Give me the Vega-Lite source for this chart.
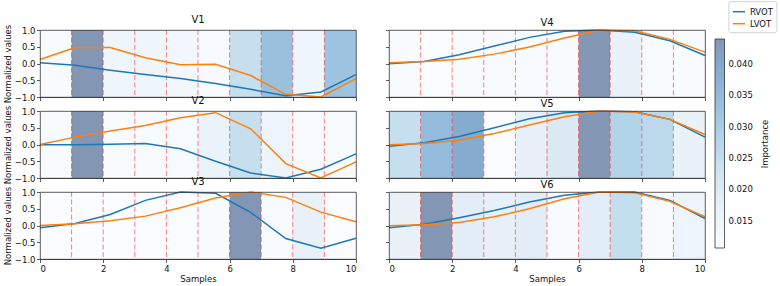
{
  "$schema": "https://vega.github.io/schema/vega-lite/v6.json",
  "padding": {"left": 2, "top": 0, "right": 1, "bottom": 2},
  "bounds": "flush",
  "columns": 2,
  "spacing": {"row": 14, "column": 33},
  "resolve": {"scale": {"fill": "shared", "stroke": "shared"}, "legend": {"fill": "shared", "stroke": "shared"}},
  "config": {
    "font": "DejaVu Sans",
    "view": {"stroke": "#333", "strokeWidth": 0.8},
    "style": {"cell": {"strokeForeground": true}},
    "axis": {"labelFont": "DejaVu Sans", "labelFontSize": 8.5, "labelColor": "#111", "tickSize": 3.5, "tickColor": "#333", "tickWidth": 0.8, "domainColor": "#333", "domainWidth": 0.8, "grid": false, "labelPadding": 1.5, "titleFont": "DejaVu Sans", "titleFontSize": 8.5, "titleFontWeight": "normal", "titleColor": "#111", "titlePadding": 2, "zindex": 1},
    "title": {"font": "DejaVu Sans", "fontSize": 10, "fontWeight": "normal", "color": "#111", "offset": -1, "baseline": "alphabetic", "frame": "group"},
    "legend": {"labelFont": "DejaVu Sans", "titleFont": "DejaVu Sans"}
  },
  "datasets": {
    "bands": [
      {"panel": "V1", "x": 0, "x2": 1, "imp": 0.0117}, {"panel": "V1", "x": 1, "x2": 2, "imp": 0.0439}, {"panel": "V1", "x": 2, "x2": 3, "imp": 0.015}, {"panel": "V1", "x": 3, "x2": 4, "imp": 0.0147}, {"panel": "V1", "x": 4, "x2": 5, "imp": 0.014}, {"panel": "V1", "x": 5, "x2": 6, "imp": 0.012}, {"panel": "V1", "x": 6, "x2": 7, "imp": 0.0246}, {"panel": "V1", "x": 7, "x2": 8, "imp": 0.0333}, {"panel": "V1", "x": 8, "x2": 9, "imp": 0.0144}, {"panel": "V1", "x": 9, "x2": 10, "imp": 0.0326},
      {"panel": "V2", "x": 0, "x2": 1, "imp": 0.0115}, {"panel": "V2", "x": 1, "x2": 2, "imp": 0.0439}, {"panel": "V2", "x": 2, "x2": 3, "imp": 0.0118}, {"panel": "V2", "x": 3, "x2": 4, "imp": 0.0118}, {"panel": "V2", "x": 4, "x2": 5, "imp": 0.012}, {"panel": "V2", "x": 5, "x2": 6, "imp": 0.016}, {"panel": "V2", "x": 6, "x2": 7, "imp": 0.0246}, {"panel": "V2", "x": 7, "x2": 8, "imp": 0.0153}, {"panel": "V2", "x": 8, "x2": 9, "imp": 0.012}, {"panel": "V2", "x": 9, "x2": 10, "imp": 0.0115},
      {"panel": "V3", "x": 0, "x2": 1, "imp": 0.011}, {"panel": "V3", "x": 1, "x2": 2, "imp": 0.011}, {"panel": "V3", "x": 2, "x2": 3, "imp": 0.011}, {"panel": "V3", "x": 3, "x2": 4, "imp": 0.011}, {"panel": "V3", "x": 4, "x2": 5, "imp": 0.011}, {"panel": "V3", "x": 5, "x2": 6, "imp": 0.0112}, {"panel": "V3", "x": 6, "x2": 7, "imp": 0.0439}, {"panel": "V3", "x": 7, "x2": 8, "imp": 0.0115}, {"panel": "V3", "x": 8, "x2": 9, "imp": 0.017}, {"panel": "V3", "x": 9, "x2": 10, "imp": 0.011},
      {"panel": "V4", "x": 0, "x2": 1, "imp": 0.0115}, {"panel": "V4", "x": 1, "x2": 2, "imp": 0.011}, {"panel": "V4", "x": 2, "x2": 3, "imp": 0.0115}, {"panel": "V4", "x": 3, "x2": 4, "imp": 0.0118}, {"panel": "V4", "x": 4, "x2": 5, "imp": 0.012}, {"panel": "V4", "x": 5, "x2": 6, "imp": 0.0115}, {"panel": "V4", "x": 6, "x2": 7, "imp": 0.0439}, {"panel": "V4", "x": 7, "x2": 8, "imp": 0.0167}, {"panel": "V4", "x": 8, "x2": 9, "imp": 0.0115}, {"panel": "V4", "x": 9, "x2": 10, "imp": 0.0112},
      {"panel": "V5", "x": 0, "x2": 1, "imp": 0.0246}, {"panel": "V5", "x": 1, "x2": 2, "imp": 0.0346}, {"panel": "V5", "x": 2, "x2": 3, "imp": 0.039}, {"panel": "V5", "x": 3, "x2": 4, "imp": 0.011}, {"panel": "V5", "x": 4, "x2": 5, "imp": 0.0173}, {"panel": "V5", "x": 5, "x2": 6, "imp": 0.0207}, {"panel": "V5", "x": 6, "x2": 7, "imp": 0.0439}, {"panel": "V5", "x": 7, "x2": 8, "imp": 0.028}, {"panel": "V5", "x": 8, "x2": 9, "imp": 0.0263}, {"panel": "V5", "x": 9, "x2": 10, "imp": 0.0167},
      {"panel": "V6", "x": 0, "x2": 1, "imp": 0.0167}, {"panel": "V6", "x": 1, "x2": 2, "imp": 0.0439}, {"panel": "V6", "x": 2, "x2": 3, "imp": 0.019}, {"panel": "V6", "x": 3, "x2": 4, "imp": 0.0173}, {"panel": "V6", "x": 4, "x2": 5, "imp": 0.019}, {"panel": "V6", "x": 5, "x2": 6, "imp": 0.0114}, {"panel": "V6", "x": 6, "x2": 7, "imp": 0.019}, {"panel": "V6", "x": 7, "x2": 8, "imp": 0.025}, {"panel": "V6", "x": 8, "x2": 9, "imp": 0.0115}, {"panel": "V6", "x": 9, "x2": 10, "imp": 0.0153}
    ],
    "series": [
      {"panel": "V1", "series": "RVOT", "x": 0, "v": 0.02}, {"panel": "V1", "series": "RVOT", "x": 1.111, "v": -0.05}, {"panel": "V1", "series": "RVOT", "x": 2.222, "v": -0.2}, {"panel": "V1", "series": "RVOT", "x": 3.333, "v": -0.33}, {"panel": "V1", "series": "RVOT", "x": 4.444, "v": -0.45}, {"panel": "V1", "series": "RVOT", "x": 5.556, "v": -0.6}, {"panel": "V1", "series": "RVOT", "x": 6.667, "v": -0.77}, {"panel": "V1", "series": "RVOT", "x": 7.778, "v": -0.96}, {"panel": "V1", "series": "RVOT", "x": 8.889, "v": -0.85}, {"panel": "V1", "series": "RVOT", "x": 10, "v": -0.33},
      {"panel": "V1", "series": "LVOT", "x": 0, "v": 0.12}, {"panel": "V1", "series": "LVOT", "x": 1.111, "v": 0.48}, {"panel": "V1", "series": "LVOT", "x": 2.222, "v": 0.48}, {"panel": "V1", "series": "LVOT", "x": 3.333, "v": 0.17}, {"panel": "V1", "series": "LVOT", "x": 4.444, "v": -0.04}, {"panel": "V1", "series": "LVOT", "x": 5.556, "v": -0.02}, {"panel": "V1", "series": "LVOT", "x": 6.667, "v": -0.36}, {"panel": "V1", "series": "LVOT", "x": 7.778, "v": -0.92}, {"panel": "V1", "series": "LVOT", "x": 8.889, "v": -1.0}, {"panel": "V1", "series": "LVOT", "x": 10, "v": -0.45},
      {"panel": "V2", "series": "RVOT", "x": 0, "v": -0.01}, {"panel": "V2", "series": "RVOT", "x": 1.111, "v": -0.01}, {"panel": "V2", "series": "RVOT", "x": 2.222, "v": 0.01}, {"panel": "V2", "series": "RVOT", "x": 3.333, "v": 0.03}, {"panel": "V2", "series": "RVOT", "x": 4.444, "v": -0.13}, {"panel": "V2", "series": "RVOT", "x": 5.556, "v": -0.5}, {"panel": "V2", "series": "RVOT", "x": 6.667, "v": -0.85}, {"panel": "V2", "series": "RVOT", "x": 7.778, "v": -1.0}, {"panel": "V2", "series": "RVOT", "x": 8.889, "v": -0.74}, {"panel": "V2", "series": "RVOT", "x": 10, "v": -0.28},
      {"panel": "V2", "series": "LVOT", "x": 0, "v": 0.0}, {"panel": "V2", "series": "LVOT", "x": 1.111, "v": 0.22}, {"panel": "V2", "series": "LVOT", "x": 2.222, "v": 0.4}, {"panel": "V2", "series": "LVOT", "x": 3.333, "v": 0.57}, {"panel": "V2", "series": "LVOT", "x": 4.444, "v": 0.8}, {"panel": "V2", "series": "LVOT", "x": 5.556, "v": 0.95}, {"panel": "V2", "series": "LVOT", "x": 6.667, "v": 0.47}, {"panel": "V2", "series": "LVOT", "x": 7.778, "v": -0.57}, {"panel": "V2", "series": "LVOT", "x": 8.889, "v": -1.0}, {"panel": "V2", "series": "LVOT", "x": 10, "v": -0.52},
      {"panel": "V3", "series": "RVOT", "x": 0, "v": -0.07}, {"panel": "V3", "series": "RVOT", "x": 1.111, "v": 0.06}, {"panel": "V3", "series": "RVOT", "x": 2.222, "v": 0.33}, {"panel": "V3", "series": "RVOT", "x": 3.333, "v": 0.75}, {"panel": "V3", "series": "RVOT", "x": 4.444, "v": 1.0}, {"panel": "V3", "series": "RVOT", "x": 5.556, "v": 0.96}, {"panel": "V3", "series": "RVOT", "x": 6.667, "v": 0.39}, {"panel": "V3", "series": "RVOT", "x": 7.778, "v": -0.39}, {"panel": "V3", "series": "RVOT", "x": 8.889, "v": -0.68}, {"panel": "V3", "series": "RVOT", "x": 10, "v": -0.38},
      {"panel": "V3", "series": "LVOT", "x": 0, "v": 0.0}, {"panel": "V3", "series": "LVOT", "x": 1.111, "v": 0.05}, {"panel": "V3", "series": "LVOT", "x": 2.222, "v": 0.14}, {"panel": "V3", "series": "LVOT", "x": 3.333, "v": 0.28}, {"panel": "V3", "series": "LVOT", "x": 4.444, "v": 0.53}, {"panel": "V3", "series": "LVOT", "x": 5.556, "v": 0.82}, {"panel": "V3", "series": "LVOT", "x": 6.667, "v": 1.0}, {"panel": "V3", "series": "LVOT", "x": 7.778, "v": 0.84}, {"panel": "V3", "series": "LVOT", "x": 8.889, "v": 0.4}, {"panel": "V3", "series": "LVOT", "x": 10, "v": 0.11},
      {"panel": "V4", "series": "RVOT", "x": 0, "v": -0.01}, {"panel": "V4", "series": "RVOT", "x": 1.111, "v": 0.06}, {"panel": "V4", "series": "RVOT", "x": 2.222, "v": 0.26}, {"panel": "V4", "series": "RVOT", "x": 3.333, "v": 0.52}, {"panel": "V4", "series": "RVOT", "x": 4.444, "v": 0.78}, {"panel": "V4", "series": "RVOT", "x": 5.556, "v": 0.96}, {"panel": "V4", "series": "RVOT", "x": 6.667, "v": 1.0}, {"panel": "V4", "series": "RVOT", "x": 7.778, "v": 0.93}, {"panel": "V4", "series": "RVOT", "x": 8.889, "v": 0.68}, {"panel": "V4", "series": "RVOT", "x": 10, "v": 0.24},
      {"panel": "V4", "series": "LVOT", "x": 0, "v": 0.02}, {"panel": "V4", "series": "LVOT", "x": 1.111, "v": 0.06}, {"panel": "V4", "series": "LVOT", "x": 2.222, "v": 0.13}, {"panel": "V4", "series": "LVOT", "x": 3.333, "v": 0.28}, {"panel": "V4", "series": "LVOT", "x": 4.444, "v": 0.49}, {"panel": "V4", "series": "LVOT", "x": 5.556, "v": 0.76}, {"panel": "V4", "series": "LVOT", "x": 6.667, "v": 1.0}, {"panel": "V4", "series": "LVOT", "x": 7.778, "v": 0.98}, {"panel": "V4", "series": "LVOT", "x": 8.889, "v": 0.72}, {"panel": "V4", "series": "LVOT", "x": 10, "v": 0.34},
      {"panel": "V5", "series": "RVOT", "x": 0, "v": -0.05}, {"panel": "V5", "series": "RVOT", "x": 1.111, "v": 0.05}, {"panel": "V5", "series": "RVOT", "x": 2.222, "v": 0.24}, {"panel": "V5", "series": "RVOT", "x": 3.333, "v": 0.5}, {"panel": "V5", "series": "RVOT", "x": 4.444, "v": 0.77}, {"panel": "V5", "series": "RVOT", "x": 5.556, "v": 0.95}, {"panel": "V5", "series": "RVOT", "x": 6.667, "v": 1.0}, {"panel": "V5", "series": "RVOT", "x": 7.778, "v": 0.98}, {"panel": "V5", "series": "RVOT", "x": 8.889, "v": 0.75}, {"panel": "V5", "series": "RVOT", "x": 10, "v": 0.22},
      {"panel": "V5", "series": "LVOT", "x": 0, "v": -0.01}, {"panel": "V5", "series": "LVOT", "x": 1.111, "v": 0.03}, {"panel": "V5", "series": "LVOT", "x": 2.222, "v": 0.13}, {"panel": "V5", "series": "LVOT", "x": 3.333, "v": 0.33}, {"panel": "V5", "series": "LVOT", "x": 4.444, "v": 0.58}, {"panel": "V5", "series": "LVOT", "x": 5.556, "v": 0.83}, {"panel": "V5", "series": "LVOT", "x": 6.667, "v": 1.0}, {"panel": "V5", "series": "LVOT", "x": 7.778, "v": 0.97}, {"panel": "V5", "series": "LVOT", "x": 8.889, "v": 0.75}, {"panel": "V5", "series": "LVOT", "x": 10, "v": 0.3},
      {"panel": "V6", "series": "RVOT", "x": 0, "v": -0.07}, {"panel": "V6", "series": "RVOT", "x": 1.111, "v": 0.04}, {"panel": "V6", "series": "RVOT", "x": 2.222, "v": 0.23}, {"panel": "V6", "series": "RVOT", "x": 3.333, "v": 0.45}, {"panel": "V6", "series": "RVOT", "x": 4.444, "v": 0.7}, {"panel": "V6", "series": "RVOT", "x": 5.556, "v": 0.9}, {"panel": "V6", "series": "RVOT", "x": 6.667, "v": 1.0}, {"panel": "V6", "series": "RVOT", "x": 7.778, "v": 1.0}, {"panel": "V6", "series": "RVOT", "x": 8.889, "v": 0.75}, {"panel": "V6", "series": "RVOT", "x": 10, "v": 0.21},
      {"panel": "V6", "series": "LVOT", "x": 0, "v": -0.01}, {"panel": "V6", "series": "LVOT", "x": 1.111, "v": 0.02}, {"panel": "V6", "series": "LVOT", "x": 2.222, "v": 0.09}, {"panel": "V6", "series": "LVOT", "x": 3.333, "v": 0.26}, {"panel": "V6", "series": "LVOT", "x": 4.444, "v": 0.5}, {"panel": "V6", "series": "LVOT", "x": 5.556, "v": 0.8}, {"panel": "V6", "series": "LVOT", "x": 6.667, "v": 1.0}, {"panel": "V6", "series": "LVOT", "x": 7.778, "v": 0.98}, {"panel": "V6", "series": "LVOT", "x": 8.889, "v": 0.72}, {"panel": "V6", "series": "LVOT", "x": 10, "v": 0.26}
    ]
  },
  "concat": [
    {
      "title": {"text": "V1"}, "width": 316, "height": 67,
      "encoding": {"x": {"field": "x", "type": "quantitative", "scale": {"domain": [0, 10], "nice": false, "zero": false}, "axis": {"values": [0, 2, 4, 6, 8, 10], "format": "d", "labels": false, "title": null}}},
      "layer": [
        {"data": {"name": "bands"}, "transform": [{"filter": "datum.panel === 'V1'"}], "mark": {"type": "rect"}, "encoding": {"x2": {"field": "x2"}, "fill": {"field": "imp", "type": "quantitative", "scale": {"type": "linear", "domain": [0.0107, 0.01485, 0.019, 0.02315, 0.0273, 0.03145, 0.0356, 0.03975, 0.0439], "range": ["#fbfdff", "#eef5fb", "#e2edf7", "#cee4f0", "#b5d6ea", "#a0c8e2", "#90b8da", "#83a8cd", "#8397b5"], "interpolate": "rgb", "nice": false, "zero": false}, "legend": {"orient": "none", "legendX": 675, "legendY": 9, "direction": "vertical", "gradientLength": 209, "gradientThickness": 9.5, "title": "Importance", "titleOrient": "right", "titleFontSize": 8.5, "titleFontWeight": "normal", "titlePadding": 6, "titleColor": "#111", "labelFontSize": 8.5, "labelColor": "#111", "labelOffset": 4, "values": [0.015, 0.02, 0.025, 0.03, 0.035, 0.04], "format": ".3f", "gradientStrokeColor": "#333", "gradientStrokeWidth": 0.8, "padding": 0, "encode": {"title": {"update": {"angle": {"value": 270}, "dy": {"value": 11}}}}}}}},
        {"data": {"name": "bands"}, "transform": [{"filter": "datum.panel === 'V1' && datum.x > 0"}], "mark": {"type": "rule", "color": "red", "opacity": 0.5, "strokeDash": [5, 2.5], "strokeWidth": 1}, "encoding": {}},
        {"data": {"name": "series"}, "transform": [{"filter": "datum.panel === 'V1'"}], "mark": {"type": "line", "strokeWidth": 1.5}, "encoding": {"y": {"field": "v", "type": "quantitative", "scale": {"domain": [-1, 1], "nice": false, "zero": false}, "axis": {"values": [-1, -0.5, 0, 0.5, 1], "format": ".1f", "title": "Normalized values"}}, "stroke": {"field": "series", "type": "nominal", "scale": {"domain": ["RVOT", "LVOT"], "range": ["#1f77b4", "#ff7f0e"]}, "legend": {"orient": "none", "legendX": 688.4, "legendY": -28.8, "title": null, "symbolType": "stroke", "symbolStrokeWidth": 1.5, "symbolSize": 150, "labelFontSize": 8.5, "labelColor": "#111", "strokeColor": "#d0d0d0", "fillColor": "white", "padding": 3.5, "cornerRadius": 2, "rowPadding": 0}}}}
      ]
    },
    {
      "title": {"text": "V4"}, "width": 316, "height": 67,
      "encoding": {"x": {"field": "x", "type": "quantitative", "scale": {"domain": [0, 10], "nice": false, "zero": false}, "axis": {"values": [0, 2, 4, 6, 8, 10], "format": "d", "labels": false, "title": null}}},
      "layer": [
        {"data": {"name": "bands"}, "transform": [{"filter": "datum.panel === 'V4'"}], "mark": {"type": "rect"}, "encoding": {"x2": {"field": "x2"}, "fill": {"field": "imp", "type": "quantitative", "scale": {"type": "linear", "domain": [0.0107, 0.01485, 0.019, 0.02315, 0.0273, 0.03145, 0.0356, 0.03975, 0.0439], "range": ["#fbfdff", "#eef5fb", "#e2edf7", "#cee4f0", "#b5d6ea", "#a0c8e2", "#90b8da", "#83a8cd", "#8397b5"], "interpolate": "rgb", "nice": false, "zero": false}, "legend": {"orient": "none", "legendX": 675, "legendY": 9, "direction": "vertical", "gradientLength": 209, "gradientThickness": 9.5, "title": "Importance", "titleOrient": "right", "titleFontSize": 8.5, "titleFontWeight": "normal", "titlePadding": 6, "titleColor": "#111", "labelFontSize": 8.5, "labelColor": "#111", "labelOffset": 4, "values": [0.015, 0.02, 0.025, 0.03, 0.035, 0.04], "format": ".3f", "gradientStrokeColor": "#333", "gradientStrokeWidth": 0.8, "padding": 0, "encode": {"title": {"update": {"angle": {"value": 270}, "dy": {"value": 11}}}}}}}},
        {"data": {"name": "bands"}, "transform": [{"filter": "datum.panel === 'V4' && datum.x > 0"}], "mark": {"type": "rule", "color": "red", "opacity": 0.5, "strokeDash": [5, 2.5], "strokeWidth": 1}, "encoding": {}},
        {"data": {"name": "series"}, "transform": [{"filter": "datum.panel === 'V4'"}], "mark": {"type": "line", "strokeWidth": 1.5}, "encoding": {"y": {"field": "v", "type": "quantitative", "scale": {"domain": [-1, 1], "nice": false, "zero": false}, "axis": {"values": [-1, -0.5, 0, 0.5, 1], "format": ".1f", "labels": false, "title": null}}, "stroke": {"field": "series", "type": "nominal", "scale": {"domain": ["RVOT", "LVOT"], "range": ["#1f77b4", "#ff7f0e"]}, "legend": {"orient": "none", "legendX": 688.4, "legendY": -28.8, "title": null, "symbolType": "stroke", "symbolStrokeWidth": 1.5, "symbolSize": 150, "labelFontSize": 8.5, "labelColor": "#111", "strokeColor": "#d0d0d0", "fillColor": "white", "padding": 3.5, "cornerRadius": 2, "rowPadding": 0}}}}
      ]
    },
    {
      "title": {"text": "V2"}, "width": 316, "height": 67,
      "encoding": {"x": {"field": "x", "type": "quantitative", "scale": {"domain": [0, 10], "nice": false, "zero": false}, "axis": {"values": [0, 2, 4, 6, 8, 10], "format": "d", "labels": false, "title": null}}},
      "layer": [
        {"data": {"name": "bands"}, "transform": [{"filter": "datum.panel === 'V2'"}], "mark": {"type": "rect"}, "encoding": {"x2": {"field": "x2"}, "fill": {"field": "imp", "type": "quantitative", "scale": {"type": "linear", "domain": [0.0107, 0.01485, 0.019, 0.02315, 0.0273, 0.03145, 0.0356, 0.03975, 0.0439], "range": ["#fbfdff", "#eef5fb", "#e2edf7", "#cee4f0", "#b5d6ea", "#a0c8e2", "#90b8da", "#83a8cd", "#8397b5"], "interpolate": "rgb", "nice": false, "zero": false}, "legend": {"orient": "none", "legendX": 675, "legendY": 9, "direction": "vertical", "gradientLength": 209, "gradientThickness": 9.5, "title": "Importance", "titleOrient": "right", "titleFontSize": 8.5, "titleFontWeight": "normal", "titlePadding": 6, "titleColor": "#111", "labelFontSize": 8.5, "labelColor": "#111", "labelOffset": 4, "values": [0.015, 0.02, 0.025, 0.03, 0.035, 0.04], "format": ".3f", "gradientStrokeColor": "#333", "gradientStrokeWidth": 0.8, "padding": 0, "encode": {"title": {"update": {"angle": {"value": 270}, "dy": {"value": 11}}}}}}}},
        {"data": {"name": "bands"}, "transform": [{"filter": "datum.panel === 'V2' && datum.x > 0"}], "mark": {"type": "rule", "color": "red", "opacity": 0.5, "strokeDash": [5, 2.5], "strokeWidth": 1}, "encoding": {}},
        {"data": {"name": "series"}, "transform": [{"filter": "datum.panel === 'V2'"}], "mark": {"type": "line", "strokeWidth": 1.5}, "encoding": {"y": {"field": "v", "type": "quantitative", "scale": {"domain": [-1, 1], "nice": false, "zero": false}, "axis": {"values": [-1, -0.5, 0, 0.5, 1], "format": ".1f", "title": "Normalized values"}}, "stroke": {"field": "series", "type": "nominal", "scale": {"domain": ["RVOT", "LVOT"], "range": ["#1f77b4", "#ff7f0e"]}, "legend": {"orient": "none", "legendX": 688.4, "legendY": -28.8, "title": null, "symbolType": "stroke", "symbolStrokeWidth": 1.5, "symbolSize": 150, "labelFontSize": 8.5, "labelColor": "#111", "strokeColor": "#d0d0d0", "fillColor": "white", "padding": 3.5, "cornerRadius": 2, "rowPadding": 0}}}}
      ]
    },
    {
      "title": {"text": "V5"}, "width": 316, "height": 67,
      "encoding": {"x": {"field": "x", "type": "quantitative", "scale": {"domain": [0, 10], "nice": false, "zero": false}, "axis": {"values": [0, 2, 4, 6, 8, 10], "format": "d", "labels": false, "title": null}}},
      "layer": [
        {"data": {"name": "bands"}, "transform": [{"filter": "datum.panel === 'V5'"}], "mark": {"type": "rect"}, "encoding": {"x2": {"field": "x2"}, "fill": {"field": "imp", "type": "quantitative", "scale": {"type": "linear", "domain": [0.0107, 0.01485, 0.019, 0.02315, 0.0273, 0.03145, 0.0356, 0.03975, 0.0439], "range": ["#fbfdff", "#eef5fb", "#e2edf7", "#cee4f0", "#b5d6ea", "#a0c8e2", "#90b8da", "#83a8cd", "#8397b5"], "interpolate": "rgb", "nice": false, "zero": false}, "legend": {"orient": "none", "legendX": 675, "legendY": 9, "direction": "vertical", "gradientLength": 209, "gradientThickness": 9.5, "title": "Importance", "titleOrient": "right", "titleFontSize": 8.5, "titleFontWeight": "normal", "titlePadding": 6, "titleColor": "#111", "labelFontSize": 8.5, "labelColor": "#111", "labelOffset": 4, "values": [0.015, 0.02, 0.025, 0.03, 0.035, 0.04], "format": ".3f", "gradientStrokeColor": "#333", "gradientStrokeWidth": 0.8, "padding": 0, "encode": {"title": {"update": {"angle": {"value": 270}, "dy": {"value": 11}}}}}}}},
        {"data": {"name": "bands"}, "transform": [{"filter": "datum.panel === 'V5' && datum.x > 0"}], "mark": {"type": "rule", "color": "red", "opacity": 0.5, "strokeDash": [5, 2.5], "strokeWidth": 1}, "encoding": {}},
        {"data": {"name": "series"}, "transform": [{"filter": "datum.panel === 'V5'"}], "mark": {"type": "line", "strokeWidth": 1.5}, "encoding": {"y": {"field": "v", "type": "quantitative", "scale": {"domain": [-1, 1], "nice": false, "zero": false}, "axis": {"values": [-1, -0.5, 0, 0.5, 1], "format": ".1f", "labels": false, "title": null}}, "stroke": {"field": "series", "type": "nominal", "scale": {"domain": ["RVOT", "LVOT"], "range": ["#1f77b4", "#ff7f0e"]}, "legend": {"orient": "none", "legendX": 688.4, "legendY": -28.8, "title": null, "symbolType": "stroke", "symbolStrokeWidth": 1.5, "symbolSize": 150, "labelFontSize": 8.5, "labelColor": "#111", "strokeColor": "#d0d0d0", "fillColor": "white", "padding": 3.5, "cornerRadius": 2, "rowPadding": 0}}}}
      ]
    },
    {
      "title": {"text": "V3"}, "width": 316, "height": 67,
      "encoding": {"x": {"field": "x", "type": "quantitative", "scale": {"domain": [0, 10], "nice": false, "zero": false}, "axis": {"values": [0, 2, 4, 6, 8, 10], "format": "d", "title": "Samples", "labelPadding": 2, "titlePadding": 1}}},
      "layer": [
        {"data": {"name": "bands"}, "transform": [{"filter": "datum.panel === 'V3'"}], "mark": {"type": "rect"}, "encoding": {"x2": {"field": "x2"}, "fill": {"field": "imp", "type": "quantitative", "scale": {"type": "linear", "domain": [0.0107, 0.01485, 0.019, 0.02315, 0.0273, 0.03145, 0.0356, 0.03975, 0.0439], "range": ["#fbfdff", "#eef5fb", "#e2edf7", "#cee4f0", "#b5d6ea", "#a0c8e2", "#90b8da", "#83a8cd", "#8397b5"], "interpolate": "rgb", "nice": false, "zero": false}, "legend": {"orient": "none", "legendX": 675, "legendY": 9, "direction": "vertical", "gradientLength": 209, "gradientThickness": 9.5, "title": "Importance", "titleOrient": "right", "titleFontSize": 8.5, "titleFontWeight": "normal", "titlePadding": 6, "titleColor": "#111", "labelFontSize": 8.5, "labelColor": "#111", "labelOffset": 4, "values": [0.015, 0.02, 0.025, 0.03, 0.035, 0.04], "format": ".3f", "gradientStrokeColor": "#333", "gradientStrokeWidth": 0.8, "padding": 0, "encode": {"title": {"update": {"angle": {"value": 270}, "dy": {"value": 11}}}}}}}},
        {"data": {"name": "bands"}, "transform": [{"filter": "datum.panel === 'V3' && datum.x > 0"}], "mark": {"type": "rule", "color": "red", "opacity": 0.5, "strokeDash": [5, 2.5], "strokeWidth": 1}, "encoding": {}},
        {"data": {"name": "series"}, "transform": [{"filter": "datum.panel === 'V3'"}], "mark": {"type": "line", "strokeWidth": 1.5}, "encoding": {"y": {"field": "v", "type": "quantitative", "scale": {"domain": [-1, 1], "nice": false, "zero": false}, "axis": {"values": [-1, -0.5, 0, 0.5, 1], "format": ".1f", "title": "Normalized values"}}, "stroke": {"field": "series", "type": "nominal", "scale": {"domain": ["RVOT", "LVOT"], "range": ["#1f77b4", "#ff7f0e"]}, "legend": {"orient": "none", "legendX": 688.4, "legendY": -28.8, "title": null, "symbolType": "stroke", "symbolStrokeWidth": 1.5, "symbolSize": 150, "labelFontSize": 8.5, "labelColor": "#111", "strokeColor": "#d0d0d0", "fillColor": "white", "padding": 3.5, "cornerRadius": 2, "rowPadding": 0}}}}
      ]
    },
    {
      "title": {"text": "V6"}, "width": 316, "height": 67,
      "encoding": {"x": {"field": "x", "type": "quantitative", "scale": {"domain": [0, 10], "nice": false, "zero": false}, "axis": {"values": [0, 2, 4, 6, 8, 10], "format": "d", "title": "Samples", "labelPadding": 2, "titlePadding": 1}}},
      "layer": [
        {"data": {"name": "bands"}, "transform": [{"filter": "datum.panel === 'V6'"}], "mark": {"type": "rect"}, "encoding": {"x2": {"field": "x2"}, "fill": {"field": "imp", "type": "quantitative", "scale": {"type": "linear", "domain": [0.0107, 0.01485, 0.019, 0.02315, 0.0273, 0.03145, 0.0356, 0.03975, 0.0439], "range": ["#fbfdff", "#eef5fb", "#e2edf7", "#cee4f0", "#b5d6ea", "#a0c8e2", "#90b8da", "#83a8cd", "#8397b5"], "interpolate": "rgb", "nice": false, "zero": false}, "legend": {"orient": "none", "legendX": 675, "legendY": 9, "direction": "vertical", "gradientLength": 209, "gradientThickness": 9.5, "title": "Importance", "titleOrient": "right", "titleFontSize": 8.5, "titleFontWeight": "normal", "titlePadding": 6, "titleColor": "#111", "labelFontSize": 8.5, "labelColor": "#111", "labelOffset": 4, "values": [0.015, 0.02, 0.025, 0.03, 0.035, 0.04], "format": ".3f", "gradientStrokeColor": "#333", "gradientStrokeWidth": 0.8, "padding": 0, "encode": {"title": {"update": {"angle": {"value": 270}, "dy": {"value": 11}}}}}}}},
        {"data": {"name": "bands"}, "transform": [{"filter": "datum.panel === 'V6' && datum.x > 0"}], "mark": {"type": "rule", "color": "red", "opacity": 0.5, "strokeDash": [5, 2.5], "strokeWidth": 1}, "encoding": {}},
        {"data": {"name": "series"}, "transform": [{"filter": "datum.panel === 'V6'"}], "mark": {"type": "line", "strokeWidth": 1.5}, "encoding": {"y": {"field": "v", "type": "quantitative", "scale": {"domain": [-1, 1], "nice": false, "zero": false}, "axis": {"values": [-1, -0.5, 0, 0.5, 1], "format": ".1f", "labels": false, "title": null}}, "stroke": {"field": "series", "type": "nominal", "scale": {"domain": ["RVOT", "LVOT"], "range": ["#1f77b4", "#ff7f0e"]}, "legend": {"orient": "none", "legendX": 688.4, "legendY": -28.8, "title": null, "symbolType": "stroke", "symbolStrokeWidth": 1.5, "symbolSize": 150, "labelFontSize": 8.5, "labelColor": "#111", "strokeColor": "#d0d0d0", "fillColor": "white", "padding": 3.5, "cornerRadius": 2, "rowPadding": 0}}}}
      ]
    }
  ]
}
